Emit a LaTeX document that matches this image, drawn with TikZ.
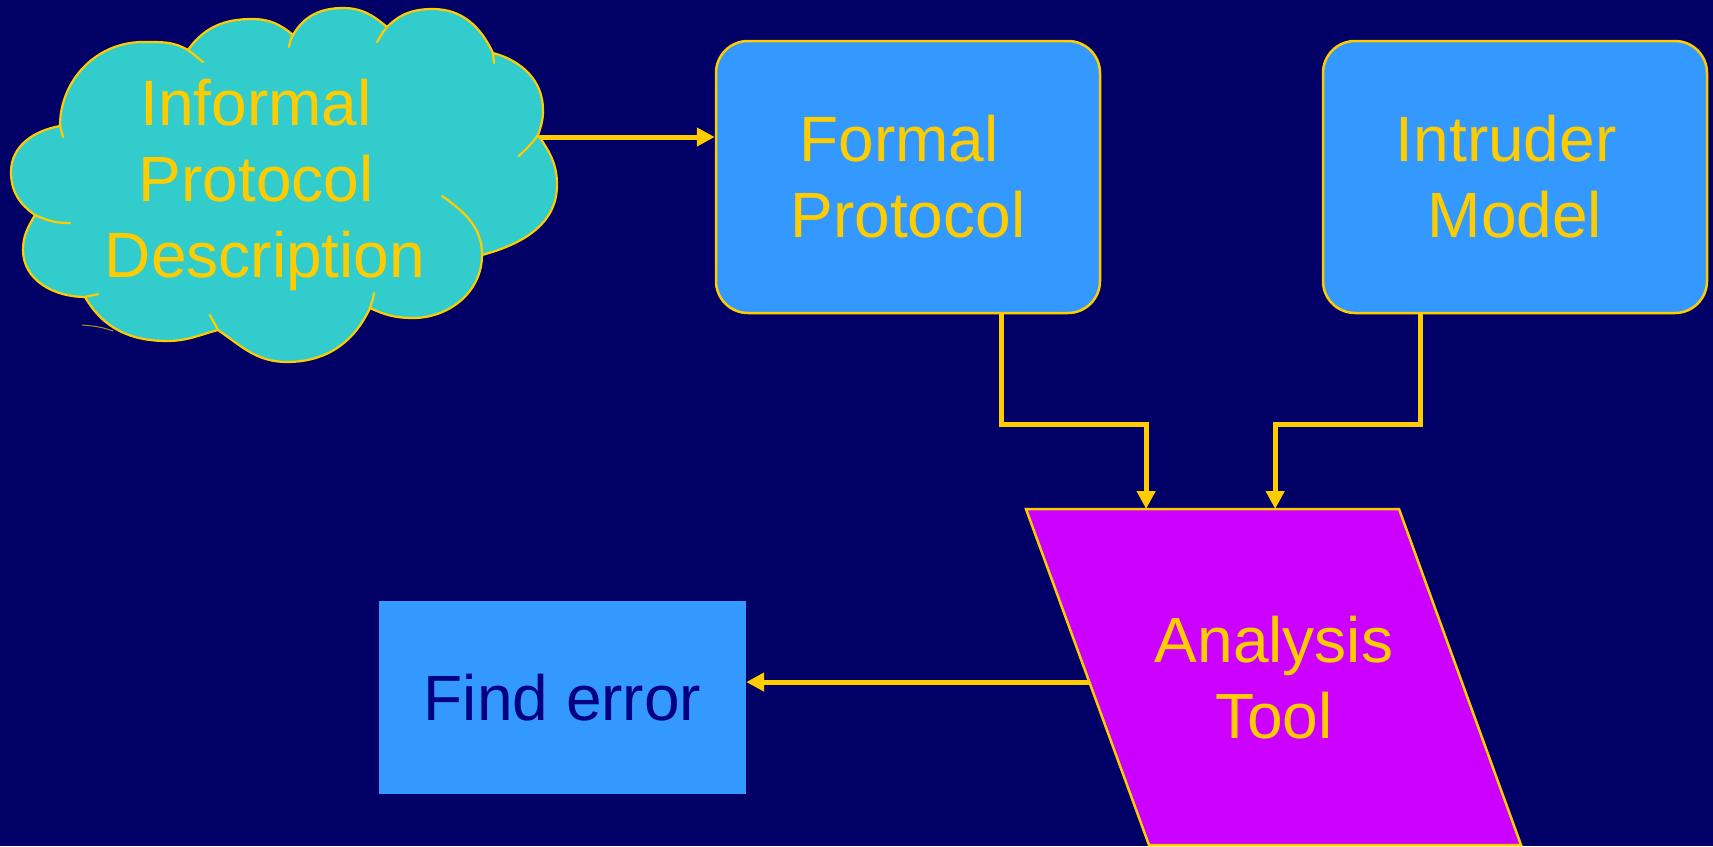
\documentclass[tikz,border=0pt]{standalone}
\usepackage{fontspec}
\setmainfont{Liberation Sans}
\usetikzlibrary{arrows.meta,calc}

\definecolor{navy}{HTML}{000066}
\definecolor{gold}{HTML}{FFCC00}
\definecolor{boxblue}{HTML}{3399FF}
\definecolor{cloudteal}{HTML}{33CCCC}
\definecolor{toolviolet}{HTML}{CC00FF}
\definecolor{darktext}{HTML}{000080}

\tikzset{
  big/.style={font=\fontsize{64}{76}\selectfont, align=center},
  pbox/.style={big, draw=gold, line width=2.5pt, fill=boxblue, rounded corners=32pt,
    minimum width=384pt, minimum height=272pt, text=gold, inner sep=0pt},
  conn/.style={draw=gold, line width=5pt, -{Triangle[length=18pt,width=18pt]}},
  cloudline/.style={draw=gold, line width=2.2pt, line cap=round},
}

\begin{document}
\begin{tikzpicture}[x=1pt,y=1pt]
\useasboundingbox (0,0) rectangle (1713,-846);
\fill[navy] (0,0) rectangle (1713,-846);

% cloud outline, bump by bump
\path[fill=cloudteal, draw=gold, line width=2.2pt]
  (60,-126) to[out=90,in=180] (143,-42) to[out=0,in=150] (188,-50)
  to[out=55,in=180] (252,-19) to[out=0,in=140] (293,-35)
  to[out=60,in=180] (343,-8) to[out=0,in=140] (387,-27)
  to[out=45,in=180] (433,-9) to[out=0,in=115] (493,-53)
  to[out=-15,in=90] (543,-110) to[out=-90,in=70] (538,-135)
  to[out=-55,in=90] (557,-185) to[out=-90,in=15] (482,-255)
  to[out=-90,in=0] (413,-318) to[out=180,in=-25] (370,-308)
  to[out=-115,in=0] (287,-362) to[out=180,in=-35] (218,-330)
  to[out=-165,in=0] (167,-341) to[out=180,in=-60] (85,-297)
  to[out=180,in=-90] (23,-250) to[out=90,in=-120] (35,-215)
  to[out=145,in=-90] (11,-172) to[out=90,in=-170] (60,-126) -- cycle;

% inner arcs of the cloud
\draw[cloudline] (60,-124) to[out=-88,in=100] (63,-137);
\draw[cloudline] (188,-50) to[out=-35,in=142] (203,-62);
\draw[cloudline] (293,-35) to[out=-120,in=80] (289,-47);
\draw[cloudline] (387,-27) to[out=-128,in=60] (377,-42);
\draw[cloudline] (493,-53) to[out=-85,in=95] (494,-63);
\draw[cloudline] (538,-135) to[out=-125,in=45] (519,-156);
\draw[cloudline] (35,-215) to[out=-25,in=180] (70,-223);
\draw[cloudline] (85,-297) to[out=15,in=195] (98,-294);
\draw[cloudline] (218,-330) to[out=115,in=-65] (210,-315);
\draw[cloudline] (370,-308) to[out=75,in=-95] (374,-293);
\draw[cloudline] (482,-255) to[out=90,in=-35] (442,-196);
\draw[gold!70!navy, line width=1pt] (82,-325) to[out=-5,in=160] (113,-331);

\node[big, text=gold, inner sep=0pt] (cloud) at (265,-185)
  {Informal\ \mbox{}\\Protocol\ \mbox{}\\Description};

% boxes
\node[pbox] (formal) at (908,-177) {Formal\ \mbox{}\\Protocol};
\node[pbox] (intruder) at (1515,-177) {Intruder\ \mbox{}\\Model};
\node[big, fill=boxblue, text=darktext, minimum width=367pt, minimum height=193pt,
  inner sep=0pt] (finderr) at (562.5,-697.5) {Find error};

% analysis tool parallelogram
\coordinate (atl) at (1026,-509);
\coordinate (atr) at (1399,-509);
\coordinate (abr) at (1521,-845);
\coordinate (abl) at (1149,-845);
\draw[gold, line width=2.5pt, fill=toolviolet] (atl) -- (atr) -- (abr) -- (abl) -- cycle;
\node[big, text=gold, inner sep=0pt] (analysis) at (1274,-678) {Analysis\\Tool};

% connectors
\coordinate (cloudR) at (540,-137);
\coordinate (out1) at ($(formal.south west)!0.742!(formal.south east)$);
\coordinate (out2) at ($(intruder.south west)!0.255!(intruder.south east)$);
\coordinate (in1) at ($(atl)!0.322!(atr)$);
\coordinate (in2) at ($(atl)!0.668!(atr)$);
\coordinate (elbow) at (0,-424);
\coordinate (aleft) at ($(atl)!0.515!(abl)$);

\draw[conn] (cloudR) -- (cloudR -| formal.west);
\draw[conn] (out1) -- (out1 |- elbow) -- (in1 |- elbow) -- (in1);
\draw[conn] (out2) -- (out2 |- elbow) -- (in2 |- elbow) -- (in2);
\draw[conn] (aleft) -- (aleft -| finderr.east);
\end{tikzpicture}
\end{document}
